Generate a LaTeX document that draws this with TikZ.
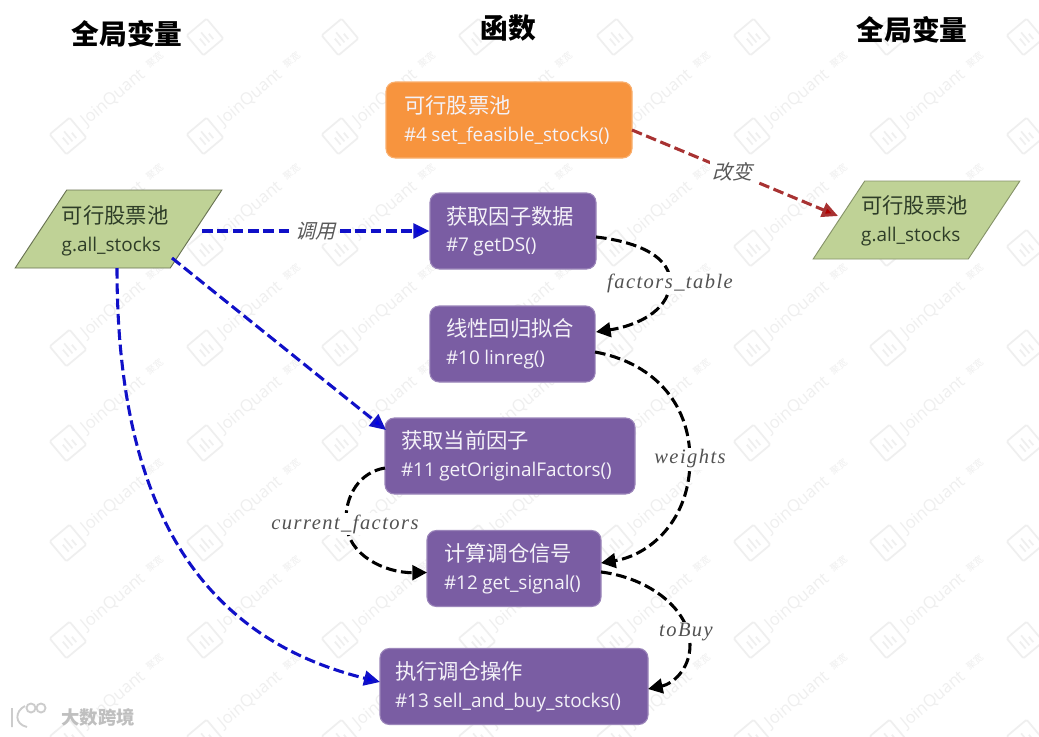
\documentclass[tikz,border=0pt]{standalone}
\usepackage{fontspec}
\usetikzlibrary{shapes.geometric,arrows.meta}
\setmainfont{Open Sans}
\newfontfamily\cjk{Noto Sans CJK SC}
\newfontfamily\cjkslant[FakeSlant=0.25]{Noto Sans CJK SC}
\newfontfamily\lab[LetterSpace=7]{Liberation Serif Italic}
\newfontfamily\wm{Open Sans}
\definecolor{orangebox}{HTML}{F7943E}
\definecolor{purplebox}{HTML}{7A5DA3}
\definecolor{greenbox}{HTML}{BFD296}
\definecolor{wmgray}{HTML}{EFEFEF}
\definecolor{bluel}{HTML}{1010C8}
\definecolor{redl}{HTML}{A83232}
\definecolor{paraink}{HTML}{2E3D28}
\newcommand{\twolines}[2]{{\cjk\fontsize{16pt}{16pt}\selectfont #1}\\[8pt]{\fontsize{14.2pt}{14.2pt}\selectfont #2}}
\tikzset{
  x=0.75pt,y=-0.75pt,
  func/.style={rounded corners=7pt,draw=#1!75!white,line width=0.8pt,fill=#1,text=white!92!purplebox,
    minimum height=57pt,inner sep=0pt,align=left},
  para/.style={trapezium,trapezium left angle=64,trapezium right angle=116,trapezium stretches=true,
    draw=#1,line width=0.7pt,fill=greenbox,minimum width=155pt,minimum height=58.5pt,inner sep=0pt},
  paratext/.style={text=paraink,align=left,inner sep=0pt},
  title/.style={font=\cjk\bfseries\fontsize{20.8pt}{20.8pt}\selectfont,text=black,inner sep=0pt},
  linkbase/.style={dashed,dash pattern=on 8pt off 3.5pt,line width=2.3pt},
  bluelink/.style={linkbase,draw=bluel,-{Stealth[length=12pt,width=11pt,fill=blue!90!black,inset=0pt]}},
  redlink/.style={linkbase,draw=redl,-{Stealth[length=12pt,width=11pt,fill=red!70!black,inset=0pt]}},
  blacklink/.style={linkbase,draw=black,-{Stealth[length=11pt,width=11pt,inset=0pt]}},
  elabel/.style={font=\lab\fontsize{15.4pt}{15.4pt}\selectfont,text=black!68,fill=white,inner sep=1pt},
  clabel/.style={font=\cjkslant\fontsize{15pt}{15pt}\selectfont,text=black!65,fill=white,inner sep=2pt},
  wmlogo/.style={wmgray,line width=1.3pt},
  wmtext/.style={anchor=west,text=wmgray,inner sep=0pt,rotate=40},
}
\begin{document}
\begin{tikzpicture}
\useasboundingbox (0,0) rectangle (1039,736);
\fill[white] (0,0) rectangle (1039,736);
% watermark
\foreach \wy in {136,248,348,443,543,640,738}{
  \foreach \wx in {68,205,340,477,615,752,888}{
    \begin{scope}[shift={(\wx,\wy)},rotate=40]
      \draw[wmlogo,rounded corners=1pt] (-13,-13) rectangle (13,13);
      \draw[wmlogo] (-5,7) -- (-5,-2) (0,7) -- (0,-6) (5,7) -- (5,0);
      \node[wmtext,font=\wm\fontsize{12.5pt}{12.5pt}\selectfont] at (20,0) {JoinQuant};
      \node[wmtext,font=\cjk\fontsize{7pt}{7pt}\selectfont] at (106,-3) {聚宽};
    \end{scope}
  }
}
\foreach \wx/\wy in {205/37,340/37,477/37,615/37,752/37,888/37,1025/37,1025/136,1025/248,1025/348,1025/443,1025/543,1025/640,1025/738}{
  \begin{scope}[shift={(\wx,\wy)},rotate=40]
    \draw[wmlogo,rounded corners=1pt] (-13,-13) rectangle (13,13);
    \draw[wmlogo] (-5,7) -- (-5,-2) (0,7) -- (0,-6) (5,7) -- (5,0);
  \end{scope}
}
% titles
\node[title] (t1) at (127,34) {全局变量};
\node[title] (t2) at (508,28) {函数};
\node[title] (t3) at (912,30) {全局变量};
% function boxes
\node[func=orangebox,minimum width=184.5pt,text width=157.5pt] (a) at (509,120) {\twolines{可行股票池}{\#4 set\_feasible\_stocks()}};
\node[func=purplebox,minimum width=124.5pt,text width=100.5pt] (b) at (513,231) {\twolines{获取因子数据}{\#7 getDS()}};
\node[func=purplebox,minimum width=124pt,text width=99.75pt] (c) at (512.5,344) {\twolines{线性回归拟合}{\#10 linreg()}};
\node[func=purplebox,minimum width=187.5pt,text width=163.5pt] (d) at (510,456) {\twolines{获取当前因子}{\#11 getOriginalFactors()}};
\node[func=purplebox,minimum width=130.5pt,text width=105pt] (e) at (514,568.5) {\twolines{计算调仓信号}{\#12 get\_signal()}};
\node[func=purplebox,minimum width=201pt,text width=178.5pt] (f) at (514,686.5) {\twolines{执行调仓操作}{\#13 sell\_and\_buy\_stocks()}};
% parallelograms
\node[para=black!45!greenbox] (g) at (118.5,229) {\phantom{x}};
\node[para=black!30!greenbox] (h) at (916.5,220) {\phantom{x}};
\node[paratext] (gt) at (115,230.5) {\twolines{可行股票池}{g.all\_stocks}};
\node[paratext] (ht) at (914.5,221) {\twolines{可行股票池}{g.all\_stocks}};
% blue
\coordinate (g1) at (202,231);
\coordinate (g2) at (172,258);
\coordinate (g3) at (117,268);
\coordinate (d1) at (386,430);
\coordinate (f1) at (380,682);
\draw[bluelink] (g1) -- node[clabel] {调用} (b.west);
\draw[bluelink] (g2) -- (d1);
\draw[bluelink] (g3) .. controls (117,520) and (210,640) .. (f1);
% red
\coordinate (a1) at (632,130);
\coordinate (h1) at (838,216);
\draw[redlink] (a1) -- node[clabel,pos=0.49] {改变} (h1);
% black
\coordinate (b1) at (596,237);
\coordinate (c1) at (596,332);
\coordinate (c2) at (595,352);
\coordinate (e1) at (601,563);
\coordinate (e2) at (601,572);
\coordinate (e0) at (427,572.5);
\coordinate (d2) at (385,468);
\coordinate (f2) at (648,689);
\draw[blacklink] (b1) .. controls (640,242) and (672,258) .. (670,284) .. controls (668,312) and (635,326) .. (c1);
\draw[blacklink] (c2) .. controls (650,362) and (690,400) .. (690,460) .. controls (690,520) and (650,555) .. (e1);
\draw[blacklink] (d2) .. controls (360,472) and (345,495) .. (346,522) .. controls (347,555) and (385,573) .. (e0);
\draw[blacklink] (e2) .. controls (650,578) and (690,610) .. (690,645) .. controls (690,670) and (672,684) .. (f2);
\node[elabel] (l1) at (670,283) {factors\_table};
\node[elabel] (l2) at (690,459) {weights};
\node[elabel] (l3) at (345,524) {current\_factors};
\node[elabel] (l4) at (686,632) {toBuy};
% corner logo
\begin{scope}[line width=1.4pt,draw=black!20]
  \draw (12,708) -- (12,727) (25,706) .. controls (15,711) and (14,724) .. (27,727);
  \draw (31,708) circle[radius=4.5] (41,708) circle[radius=4.5];
\end{scope}
\node[text=black!25,font=\cjk\bfseries\fontsize{13.8pt}{13.8pt}\selectfont,inner sep=0pt] (wmk) at (98,717) {大数跨境};
\end{tikzpicture}
\end{document}
